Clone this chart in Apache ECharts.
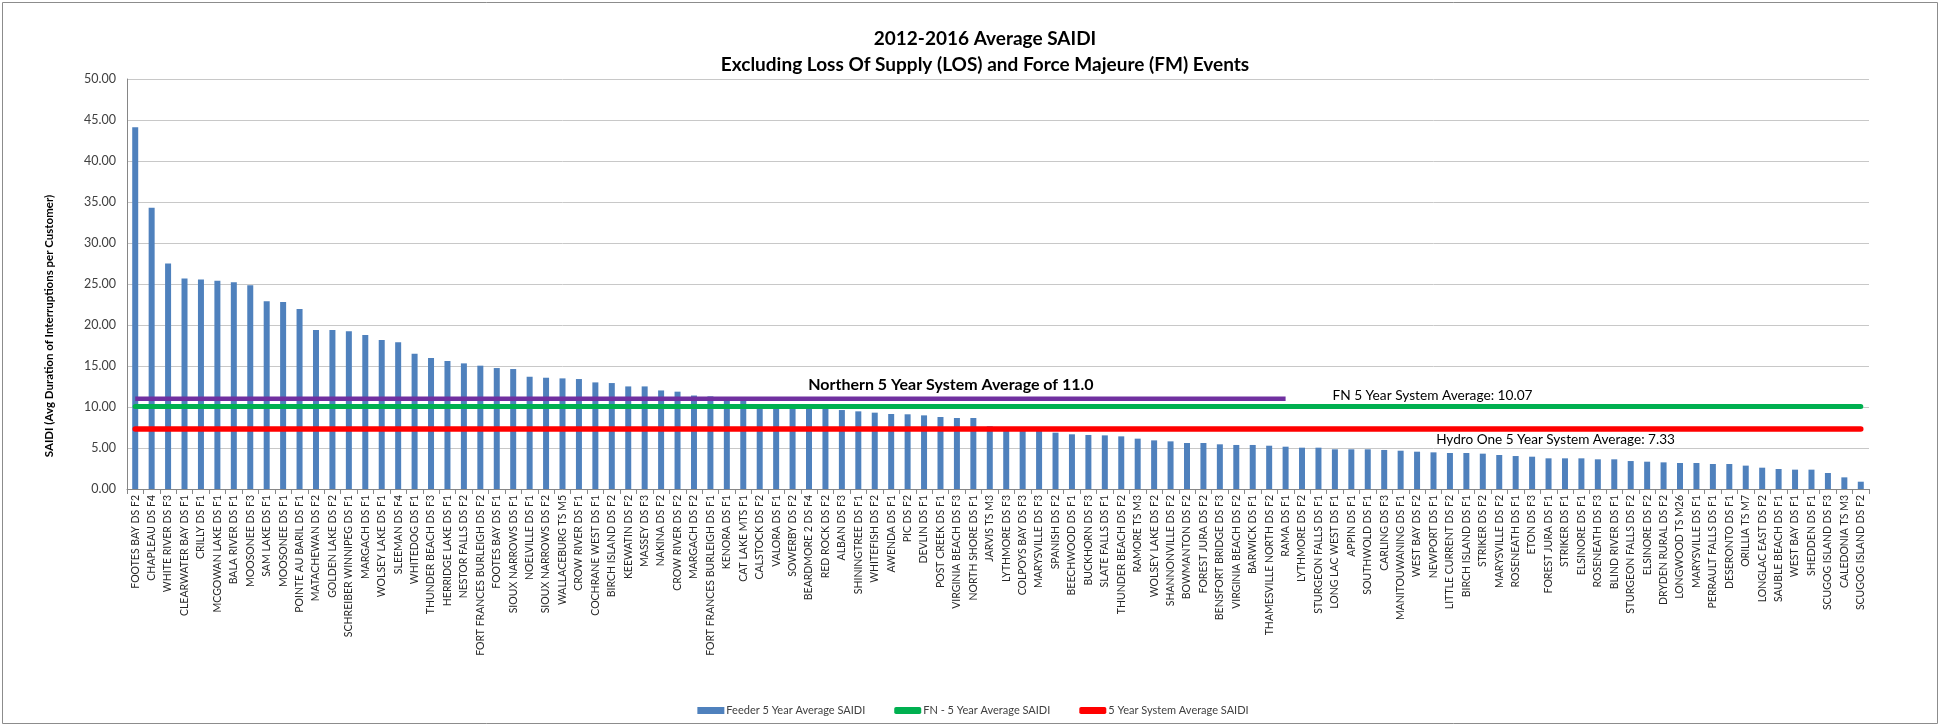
<!DOCTYPE html>
<html>
<head>
<meta charset="utf-8">
<title>2012-2016 Average SAIDI</title>
<script src="https://cdn.jsdelivr.net/npm/echarts@6/dist/echarts.min.js"></script>
<style>
  html, body { margin: 0; padding: 0; background: #ffffff; }
  #chart { width: 1946px; height: 726px; }
</style>
</head>
<body>
<div id="chart"></div>
<script>
// Feeders, sorted by their 2012-2016 average SAIDI (LOS and FM events excluded)
const feeders = [
  'FOOTES BAY DS F2', 'CHAPLEAU DS F4', 'WHITE RIVER DS F3', 'CLEARWATER BAY DS F1', 'CRILLY DS F1',
  'MCGOWAN LAKE DS F1', 'BALA RIVER DS F1', 'MOOSONEE DS F3', 'SAM LAKE DS F1', 'MOOSONEE DS F1',
  'POINTE AU BARIL DS F1', 'MATACHEWAN DS F2', 'GOLDEN LAKE DS F2', 'SCHREIBER WINNIPEG DS F1', 'MARGACH DS F1',
  'WOLSEY LAKE DS F1', 'SLEEMAN DS F4', 'WHITEDOG DS F1', 'THUNDER BEACH DS F3', 'HERRIDGE LAKE DS F1',
  'NESTOR FALLS DS F2', 'FORT FRANCES BURLEIGH DS F2', 'FOOTES BAY DS F1', 'SIOUX NARROWS DS F1', 'NOELVILLE DS F1',
  'SIOUX NARROWS DS F2', 'WALLACEBURG TS M5', 'CROW RIVER DS F1', 'COCHRANE WEST DS F1', 'BIRCH ISLAND DS F2',
  'KEEWATIN DS F2', 'MASSEY DS F3', 'NAKINA DS F2', 'CROW RIVER DS F2', 'MARGACH DS F2',
  'FORT FRANCES BURLEIGH DS F1', 'KENORA DS F1', 'CAT LAKE MTS F1', 'CALSTOCK DS F2', 'VALORA DS F1',
  'SOWERBY DS F2', 'BEARDMORE 2 DS F4', 'RED ROCK DS F2', 'ALBAN DS F3', 'SHININGTREE DS F1',
  'WHITEFISH DS F2', 'AWENDA DS F1', 'PIC DS F2', 'DEVLIN DS F1', 'POST CREEK DS F1',
  'VIRGINIA BEACH DS F3', 'NORTH SHORE DS F1', 'JARVIS TS M3', 'LYTHMORE DS F3', 'COLPOYS BAY DS F3',
  'MARYSVILLE DS F3', 'SPANISH DS F2', 'BEECHWOOD DS F1', 'BUCKHORN DS F3', 'SLATE FALLS DS F1',
  'THUNDER BEACH DS F2', 'RAMORE TS M3', 'WOLSEY LAKE DS F2', 'SHANNONVILLE DS F2', 'BOWMANTON DS F2',
  'FOREST JURA DS F2', 'BENSFORT BRIDGE DS F3', 'VIRGINIA BEACH DS F2', 'BARWICK DS F1', 'THAMESVILLE NORTH DS F2',
  'RAMA DS F1', 'LYTHMORE DS F2', 'STURGEON FALLS DS F1', 'LONG LAC WEST DS F1', 'APPIN DS F1',
  'SOUTHWOLD DS F1', 'CARLING DS F3', 'MANITOUWANING DS F1', 'WEST BAY DS F2', 'NEWPORT DS F1',
  'LITTLE CURRENT DS F2', 'BIRCH ISLAND DS F1', 'STRIKER DS F2', 'MARYSVILLE DS F2', 'ROSENEATH DS F1',
  'ETON DS F3', 'FOREST JURA DS F1', 'STRIKER DS F1', 'ELSINORE DS F1', 'ROSENEATH DS F3',
  'BLIND RIVER DS F1', 'STURGEON FALLS DS F2', 'ELSINORE DS F2', 'DRYDEN RURAL DS F2', 'LONGWOOD TS M26',
  'MARYSVILLE DS F1', 'PERRAULT FALLS DS F1', 'DESERONTO DS F1', 'ORILLIA TS M7', 'LONGLAC EAST DS F2',
  'SAUBLE BEACH DS F1', 'WEST BAY DS F1', 'SHEDDEN DS F1', 'SCUGOG ISLAND DS F3', 'CALEDONIA TS M3',
  'SCUGOG ISLAND DS F2'
];

// Feeder 5 year average SAIDI, one value per feeder above
const feederSaidi = [
  44.13, 34.31, 27.51, 25.67, 25.55, 25.39, 25.22, 24.86, 22.90, 22.82,
  21.96, 19.40, 19.40, 19.23, 18.79, 18.17, 17.89, 16.50, 15.97, 15.61,
  15.32, 15.04, 14.75, 14.63, 13.69, 13.57, 13.49, 13.41, 13.00, 12.92,
  12.51, 12.51, 12.02, 11.87, 11.40, 11.30, 11.20, 10.77, 10.35, 10.20,
  10.05, 9.90, 9.76, 9.63, 9.47, 9.31, 9.15, 9.11, 8.98, 8.78,
  8.66, 8.66, 7.65, 7.50, 7.35, 7.15, 6.87, 6.67, 6.59, 6.54,
  6.42, 6.14, 5.93, 5.81, 5.61, 5.61, 5.45, 5.37, 5.37, 5.28,
  5.16, 5.04, 5.04, 4.84, 4.84, 4.84, 4.76, 4.67, 4.55, 4.47,
  4.39, 4.39, 4.31, 4.15, 4.02, 3.94, 3.74, 3.74, 3.74, 3.62,
  3.62, 3.41, 3.33, 3.25, 3.17, 3.17, 3.05, 3.05, 2.85, 2.60,
  2.44, 2.36, 2.36, 1.95, 1.42, 0.89
];

// System averages drawn as horizontal reference lines
const northernAverage = 11.0;
const fnAverage = 10.07;
const hydroOneAverage = 7.33;
// The northern average covers the feeders up to this one
const northernLastFeeder = 'RAMA DS F1';

// Value axis ticks
const yMin = 0;
const yMax = 50;
const yStep = 5;

const FONT = 'Lato, "Open Sans", sans-serif';
const firstFeeder = feeders[0];
const lastFeeder = feeders[feeders.length - 1];

const chart = echarts.init(document.getElementById('chart'), null, { renderer: 'canvas' });

chart.setOption({
  backgroundColor: '#ffffff',
  animation: false,
  textStyle: { fontFamily: FONT },
  title: {
    text: '2012-2016 Average SAIDI\nExcluding Loss Of Supply (LOS) and Force Majeure (FM) Events',
    left: 980,
    top: 21,
    textAlign: 'center',
    textStyle: {
      fontFamily: FONT,
      fontSize: 19,
      fontWeight: 'bold',
      color: '#000000',
      lineHeight: 26
    }
  },
  legend: {
    data: [
      { name: 'Feeder 5 Year Average SAIDI', icon: 'rect' },
      { name: 'FN - 5 Year Average SAIDI', icon: 'roundRect' },
      { name: '5 Year System Average SAIDI', icon: 'roundRect' }
    ],
    left: 'center',
    top: 700,
    itemWidth: 27,
    itemHeight: 7,
    itemGap: 29,
    selectedMode: false,
    textStyle: { fontFamily: FONT, fontSize: 11, color: '#404040', padding: [0, 0, 0, -3] }
  },
  grid: {
    left: 127,
    right: 77,
    top: 79,
    bottom: 237,
    containLabel: false
  },
  xAxis: {
    type: 'category',
    data: feeders,
    boundaryGap: true,
    axisLine: { show: true, lineStyle: { color: '#868686', width: 1 } },
    axisTick: { show: true, alignWithLabel: false, length: 5, interval: 0, lineStyle: { color: '#868686' } },
    axisLabel: {
      interval: 0,
      rotate: 90,
      margin: 6,
      fontFamily: FONT,
      fontSize: 10.5,
      color: '#262626'
    },
    splitLine: { show: false }
  },
  yAxis: {
    type: 'value',
    min: yMin,
    max: yMax,
    interval: yStep,
    axisLine: { show: true, lineStyle: { color: '#868686', width: 1 } },
    axisTick: { show: false },
    axisLabel: {
      margin: 11,
      fontFamily: FONT,
      fontSize: 12.5,
      color: '#404040',
      formatter: v => v.toFixed(2)
    },
    splitLine: { show: true, lineStyle: { color: '#C8C8C8', width: 1 } }
  },
  graphic: [
    {
      type: 'rect',
      silent: true,
      shape: { x: 2.5, y: 2.5, width: 1935, height: 721 },
      style: { fill: 'none', stroke: '#8C8C8C', lineWidth: 1 }
    },
    {
      type: 'text',
      silent: true,
      x: 49,
      y: 326,
      rotation: Math.PI / 2,
      style: {
        text: 'SAIDI (Avg Duration of Interruptions per Customer)',
        fontFamily: FONT,
        fontSize: 11.5,
        fontWeight: 'bold',
        fill: '#000000',
        align: 'center',
        verticalAlign: 'middle'
      }
    }
  ],
  series: [
    {
      name: 'Feeder 5 Year Average SAIDI',
      type: 'bar',
      data: feederSaidi,
      barWidth: 6,
      itemStyle: { color: '#4F81BD' },
      color: '#4F81BD',
      z: 2
    },
    {
      name: 'Northern 5 Year System Average',
      type: 'line',
      data: [[firstFeeder, northernAverage], [northernLastFeeder, northernAverage]],
      symbol: 'none',
      color: '#7030A0',
      lineStyle: { color: '#7030A0', width: 4.5, cap: 'butt' },
      silent: true,
      z: 4,
      markPoint: {
        silent: true,
        symbol: 'circle',
        symbolSize: 0,
        data: [{ coord: ['VIRGINIA BEACH DS F3', northernAverage] }],
        label: {
          show: true,
          position: 'inside',
          offset: [-6, -14],
          formatter: 'Northern 5 Year System Average of ' + northernAverage.toFixed(1),
          fontFamily: FONT,
          fontSize: 16,
          fontWeight: 'bold',
          color: '#000000'
        }
      }
    },
    {
      name: 'FN - 5 Year Average SAIDI',
      type: 'line',
      data: [[firstFeeder, fnAverage], [lastFeeder, fnAverage]],
      symbol: 'none',
      color: '#00B050',
      lineStyle: { color: '#00B050', width: 5, cap: 'round' },
      silent: true,
      z: 4,
      markPoint: {
        silent: true,
        symbol: 'circle',
        symbolSize: 0,
        data: [{ coord: ['NEWPORT DS F1', fnAverage] }],
        label: {
          show: true,
          position: 'inside',
          offset: [-1, -11],
          formatter: 'FN 5 Year System Average: ' + fnAverage.toFixed(2),
          fontFamily: FONT,
          fontSize: 13.7,
          color: '#000000'
        }
      }
    },
    {
      name: '5 Year System Average SAIDI',
      type: 'line',
      data: [[firstFeeder, hydroOneAverage], [lastFeeder, hydroOneAverage]],
      symbol: 'none',
      color: '#FF0000',
      lineStyle: { color: '#FF0000', width: 5.5, cap: 'round' },
      silent: true,
      z: 4,
      markPoint: {
        silent: true,
        symbol: 'circle',
        symbolSize: 0,
        data: [{ coord: ['FOREST JURA DS F1', hydroOneAverage] }],
        label: {
          show: true,
          position: 'inside',
          offset: [7, 11],
          formatter: 'Hydro One 5 Year System Average: ' + hydroOneAverage.toFixed(2),
          fontFamily: FONT,
          fontSize: 13.6,
          color: '#000000'
        }
      }
    }
  ]
});
</script>
</body>
</html>
